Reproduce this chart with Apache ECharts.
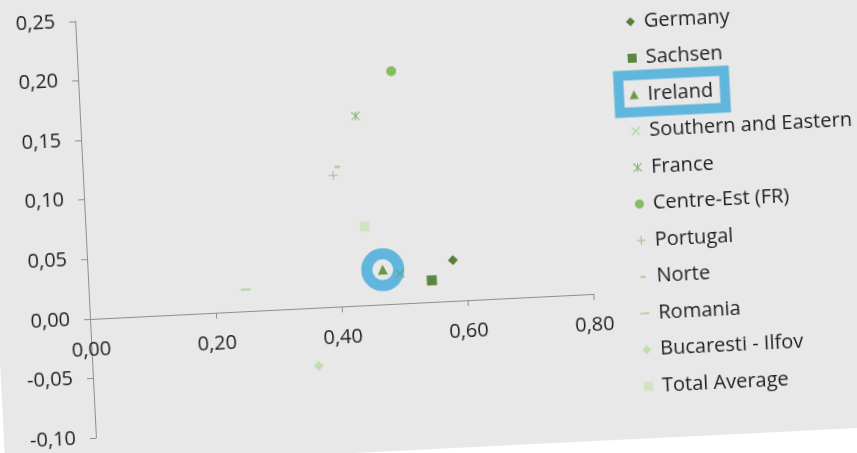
<!DOCTYPE html>
<html>
<head>
<meta charset="utf-8">
<script src="https://cdn.jsdelivr.net/npm/echarts@6/dist/echarts.min.js"></script>
<style>
  html, body { margin: 0; padding: 0; width: 857px; height: 453px; overflow: hidden; background: #ffffff; }
  /* the whole slide sits slightly tilted on the page */
  #tilt { position: absolute; left: 0; top: 0; width: 857px; height: 453px;
          transform-origin: 90px 319px; transform: rotate(-2.85deg); }
  #sheet { position: absolute; left: -2px; top: -120px; width: 1000px; height: 586px; background: #e8e8e8; }
  #chart { position: absolute; left: 0; top: 0; width: 900px; height: 470px; }
</style>
</head>
<body>
<div id="tilt"><div id="sheet"></div><div id="chart"></div></div>
<script>
// Regions and their two indicators
const regions = ['Germany', 'Sachsen', 'Ireland', 'Southern and Eastern', 'France',
                 'Centre-Est (FR)', 'Portugal', 'Norte', 'Romania', 'Bucaresti - Ilfov', 'Total Average'];
const xValues = [0.580, 0.545, 0.468, 0.495, 0.437, 0.497, 0.397, 0.404, 0.249, 0.359, 0.443];
const yValues = [0.034, 0.018, 0.029, 0.025, 0.159, 0.195, 0.110, 0.117, 0.018, -0.049, 0.066];

// Axis ticks
const xTicks = [0.00, 0.20, 0.40, 0.60, 0.80];
const yTicks = [-0.10, -0.05, 0.00, 0.05, 0.10, 0.15, 0.20, 0.25];

// Highlighted region
const highlighted = 'Ireland';

// Marker shapes (10x10 frames so plot and legend share proportions)
const SHAPE_X = 'path://M-0.5,-0.5M10.5,10.5M0.42,-0.42L10.42,9.58L9.58,10.42L-0.42,0.42Z' +
                'M10.42,0.42L0.42,10.42L-0.42,9.58L9.58,-0.42Z';
const SHAPE_STAR = SHAPE_X + 'M4.45,-0.5L5.55,-0.5L5.55,10.5L4.45,10.5Z';
const SHAPE_PLUS = 'path://M4.4,0H5.6V10H4.4Z M0,4.4H10V5.6H0Z';
const SHAPE_SHORT = 'path://M0,0M10,10M2.3,4H7.7V6H2.3Z';
const SHAPE_LONG = 'path://M0,0M10,10M0,4H10V6H0Z';

const markerStyles = [
  { symbol: 'diamond',  size: 10, color: '#567e37' },
  { symbol: 'rect',     size: 10, color: '#5c863e' },
  { symbol: 'triangle', size: 10, color: '#689a43' },
  { symbol: SHAPE_X,    size: 9,  color: '#5c9e78', legendColor: '#a6d08e' },
  { symbol: SHAPE_STAR, size: 9,  color: '#7db05e' },
  { symbol: 'circle',   size: 10, color: '#84bd5b' },
  { symbol: SHAPE_PLUS, size: 9,  color: '#95c680' },
  { symbol: SHAPE_SHORT,size: 10, color: '#9dcc83' },
  { symbol: SHAPE_LONG, size: 10, color: '#afd699' },
  { symbol: 'diamond',  size: 10, color: '#c1deaf' },
  { symbol: 'rect',     size: 10, color: '#d2e3c4' }
];

const BLUE = '#60b6dc';
const TEXT = '#1f1f1f';
const AXIS = '#8e8e8e';
const FONT = '"Open Sans", "Noto Sans", sans-serif';
const fmt = v => v.toFixed(2).replace('.', ',');

const GRID = { left: 90, top: 21, width: 504, height: 417 };
const yMin = yTicks[0], yMax = yTicks[yTicks.length - 1];
// the value axis crosses at y = 0: shift it up from the grid bottom
const xAxisShift = GRID.height * (0 - yMin) / (yMax - yMin);

const series = regions.map((name, i) => {
  const m = markerStyles[i];
  const s = {
    name: name,
    type: 'scatter',
    symbol: m.symbol,
    symbolSize: m.size,
    itemStyle: { color: m.color, opacity: 1 },
    z: name === 'Southern and Eastern' ? 10 : 3,
    data: [[xValues[i], yValues[i]]]
  };
  if (name === highlighted) {
    s.markPoint = {
      z: 1,
      symbol: 'circle',
      symbolSize: 32,
      silent: true,
      label: { show: false },
      itemStyle: { color: 'rgba(0,0,0,0)', borderColor: BLUE, borderWidth: 11 },
      data: [{ coord: [xValues[i], yValues[i]] }]
    };
  }
  return s;
});

const chart = echarts.init(document.getElementById('chart'), null, { renderer: 'canvas' });
chart.setOption({
  animation: false,
  backgroundColor: 'transparent',
  grid: { left: GRID.left, top: GRID.top, width: GRID.width, height: GRID.height,
          containLabel: false, outerBoundsMode: 'none' },
  xAxis: {
    type: 'value',
    position: 'bottom',
    offset: -xAxisShift,
    min: xTicks[0], max: xTicks[xTicks.length - 1],
    interval: xTicks[1] - xTicks[0],
    axisLine: { show: true, onZero: false, lineStyle: { color: AXIS, width: 1 } },
    axisTick: { show: true, length: 6, lineStyle: { color: AXIS } },
    splitLine: { show: false },
    axisLabel: { margin: 21, color: TEXT, fontSize: 20, fontFamily: FONT, formatter: fmt }
  },
  yAxis: {
    type: 'value',
    min: yMin, max: yMax,
    interval: 0.05,
    axisLine: { show: true, onZero: false, lineStyle: { color: AXIS, width: 1 } },
    axisTick: { show: true, length: 6, lineStyle: { color: AXIS } },
    splitLine: { show: false },
    axisLabel: { margin: 20, color: TEXT, fontSize: 20, fontFamily: FONT, formatter: fmt }
  },
  legend: {
    orient: 'vertical',
    left: 635, top: 32,
    itemWidth: 9, itemHeight: 9,
    itemGap: 12.5,
    selectedMode: false,
    textStyle: { color: TEXT, fontSize: 20, fontFamily: FONT, lineHeight: 24, padding: [0, 0, 0, 4] },
    data: regions.map((name, i) => markerStyles[i].legendColor
      ? { name: name, itemStyle: { color: markerStyles[i].legendColor } }
      : { name: name })
  },
  graphic: [{
    type: 'rect',
    silent: true,
    shape: { x: 629.5, y: 102.5, width: 106, height: 37 },
    style: { fill: 'none', stroke: BLUE, lineWidth: 10 }
  }],
  series: series
});
</script>
</body>
</html>
